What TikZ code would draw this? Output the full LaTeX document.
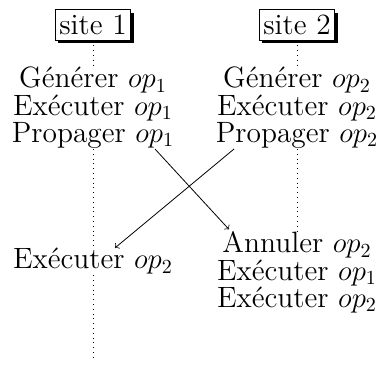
\documentclass[tikz,border=0pt]{standalone}
\usetikzlibrary{shadows}
\newcommand{\colA}{46.5}
\newcommand{\colB}{148.5}
\newcommand{\evfont}{\fontsize{14.7}{14.7}\selectfont}
\tikzset{
    site/.style={draw, rectangle, fill=white, font=\evfont, inner xsep=2.1pt, inner ysep=2.6pt,
        drop shadow={shadow xshift=1.6pt, shadow yshift=-1.6pt, fill=black, opacity=1}},
    event/.style={anchor=base, font=\evfont, inner xsep=3pt, inner ysep=0.1pt},
    life/.style={dotted}
}
\begin{document}
\begin{tikzpicture}[x=1pt, y=1pt]
    \useasboundingbox (0,0) rectangle (189.5,184.5);

    % site 1
    \node[site] (s1) at (\colA,172) {site 1};
    \node[event] (g1) at (\colA,140.5) {Générer $op_1$};
    \node[event] (e1) at (\colA,126.9) {Exécuter $op_1$};
    \node[event] (p1) at (\colA,113.3) {Propager $op_1$};
    \node[event] (e21) at (\colA,50) {Exécuter $op_2$};
    \coordinate (end1) at (\colA,6);

    % site 2
    \node[site] (s2) at (\colB,172) {site 2};
    \node[event] (g2) at (\colB,140.5) {Générer $op_2$};
    \node[event] (e2) at (\colB,126.9) {Exécuter $op_2$};
    \node[event] (p2) at (\colB,113.3) {Propager $op_2$};
    \node[event] (a2) at (\colB,58) {Annuler $op_2$};
    \node[event] (e12) at (\colB,44.4) {Exécuter $op_1$};
    \node[event] (e22) at (\colB,30.8) {Exécuter $op_2$};

    \draw[life] (s1.south) -- (g1.north);
    \draw[life] (p1.south) -- (e21.north);
    \draw[life] (e21.south) -- (end1);
    \draw[life] (s2.south) -- (g2.north);
    \draw[life] (p2.south) -- (a2.north);

    \draw[->] ([xshift=31pt]p1.south) -- ([xshift=-34pt, yshift=1pt]a2.north);
    \draw[->] ([xshift=-31.5pt]p2.south) -- ([xshift=11pt]e21.north);
\end{tikzpicture}
\end{document}
